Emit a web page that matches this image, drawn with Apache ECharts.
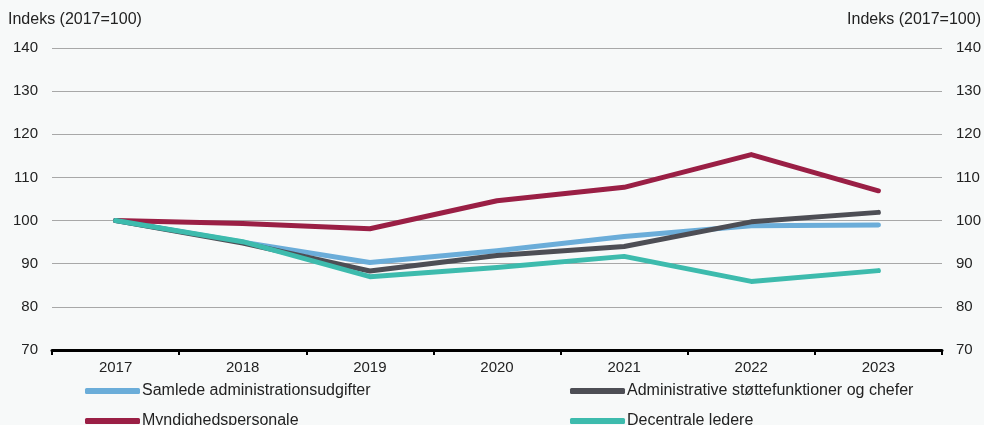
<!DOCTYPE html>
<html>
<head>
<meta charset="utf-8">
<script src="https://cdn.jsdelivr.net/npm/echarts@6/dist/echarts.min.js"></script>
<style>
  html, body { margin: 0; padding: 0; background: #f7f9f9; }
  #chart { width: 984px; height: 425px; }
</style>
</head>
<body>
<div id="chart"></div>
<script>
  const years = ['2017', '2018', '2019', '2020', '2021', '2022', '2023'];
  const samlede = [100, 95.0, 90.3, 93.0, 96.3, 98.8, 99.0];
  const administrative = [100, 94.8, 88.3, 91.9, 94.0, 99.7, 101.9];
  const myndigheds = [100, 99.3, 98.1, 104.6, 107.7, 115.3, 106.9];
  const decentrale = [100, 95.1, 87.0, 89.1, 91.7, 85.9, 88.4];

  const names = ['Samlede administrationsudgifter', 'Administrative støttefunktioner og chefer',
    'Myndighedspersonale', 'Decentrale ledere'];
  const colors = ['#6badd9', '#4d4e55', '#9a1f45', '#3dbbad'];
  const fontFamily = 'Liberation Sans, Arial, sans-serif';

  const chart = echarts.init(document.getElementById('chart'));

  const yAxisBase = {
    type: 'value',
    min: 70,
    max: 140,
    interval: 10,
    axisLine: { show: false },
    axisTick: { show: false },
    axisLabel: { color: '#222', fontSize: 15, fontFamily: fontFamily, margin: 14 },
    splitLine: { lineStyle: { color: '#a8a8a8', width: 1 } },
    name: 'Indeks (2017=100)',
    nameGap: 20,
    nameTextStyle: { color: '#222', fontSize: 16, fontFamily: fontFamily }
  };

  const legendBase = {
    orient: 'vertical',
    top: 383,
    padding: 0,
    height: 60,
    itemWidth: 55,
    itemHeight: 6,
    itemGap: 14,
    icon: 'roundRect',
    textStyle: { color: '#222', fontSize: 16, fontFamily: fontFamily, padding: [0, 0, 0, -3] }
  };

  const series = [samlede, administrative, myndigheds, decentrale].map((d, i) => ({
    name: names[i],
    type: 'line',
    data: d,
    symbol: 'none',
    lineStyle: { width: 5, color: colors[i], cap: 'round', join: 'round' },
    itemStyle: { color: colors[i] },
    z: [2, 3, 2, 4][i]
  }));

  chart.setOption({
    backgroundColor: '#f7f9f9',
    animation: false,
    grid: { left: 52, right: 42, top: 48, bottom: 75 },
    legend: [
      Object.assign({}, legendBase, { left: 85, data: [names[0], names[2]] }),
      Object.assign({}, legendBase, { left: 570, data: [names[1], names[3]] })
    ],
    xAxis: {
      type: 'category',
      data: years,
      boundaryGap: true,
      axisLine: { lineStyle: { color: '#000', width: 3 } },
      axisTick: { show: true, length: 5, lineStyle: { color: '#000', width: 2 } },
      axisLabel: { color: '#222', fontSize: 15, fontFamily: fontFamily, margin: 10 }
    },
    yAxis: [
      Object.assign({}, yAxisBase, { position: 'left', nameTextStyle: Object.assign({}, yAxisBase.nameTextStyle, { align: 'left', padding: [0, 0, 0, -44] }) }),
      Object.assign({}, yAxisBase, { position: 'right', nameTextStyle: Object.assign({}, yAxisBase.nameTextStyle, { align: 'right', padding: [0, -39, 0, 0] }) })
    ],
    series: series
  });
</script>
</body>
</html>
